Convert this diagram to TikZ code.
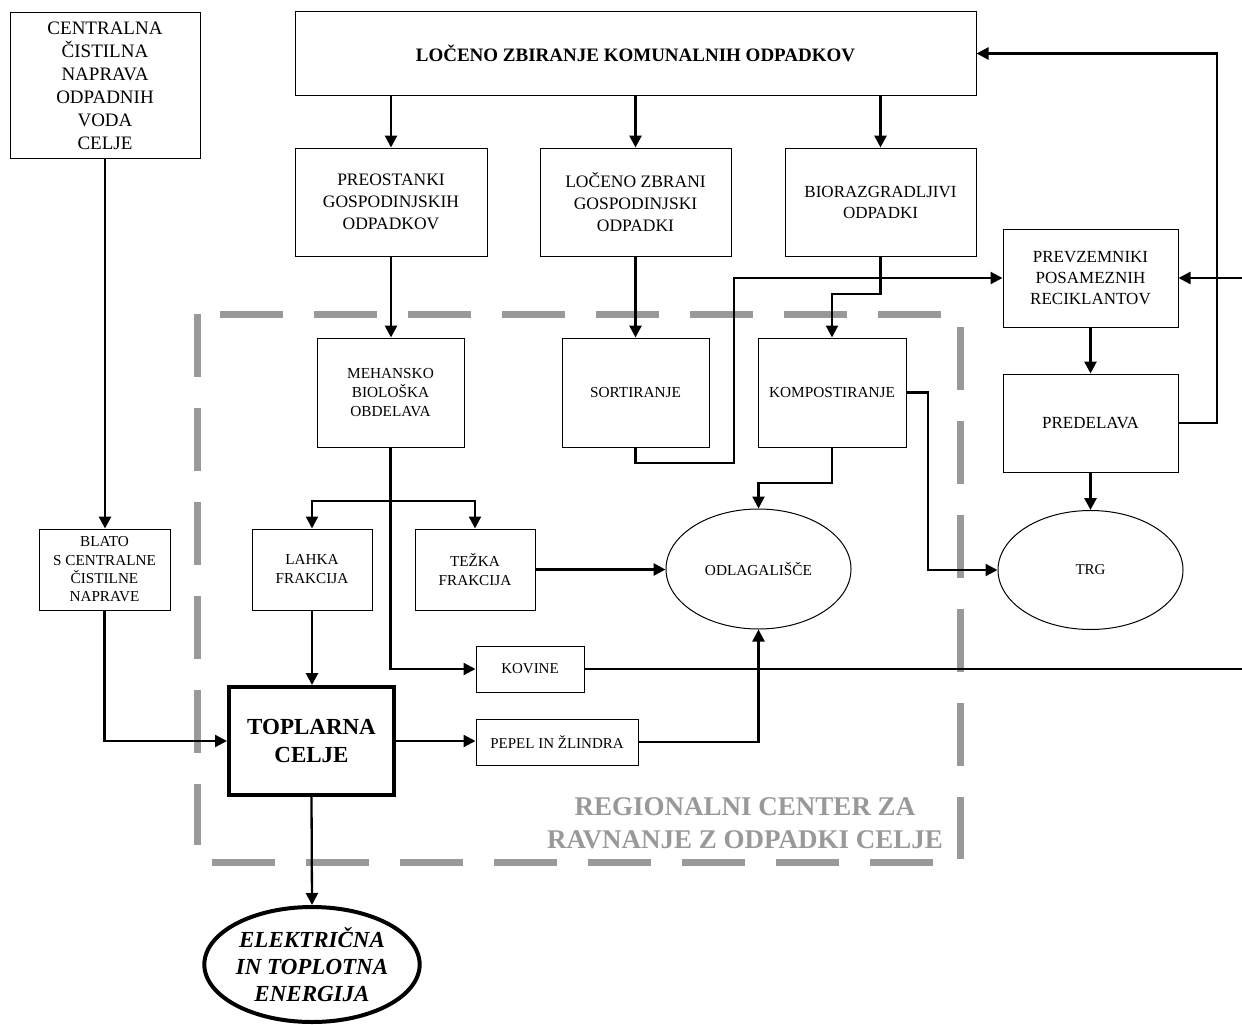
\documentclass[tikz,border=0pt]{standalone}
\usepackage{fontspec}
\setmainfont{Liberation Serif}
\usetikzlibrary{arrows.meta,shapes.geometric}
\newcommand\myfs[2]{\fontsize{#1}{#2}\selectfont}
\definecolor{rgray}{HTML}{999999}
\begin{document}
\begin{tikzpicture}[x=1pt,y=-1pt,
  bx/.style={draw, line width=1pt, inner sep=0pt, align=center},
  ell/.style={draw, ellipse, line width=1pt, inner sep=0pt, align=center},
  arr/.style={line width=2.8pt, -{Triangle[length=12pt,width=12pt]}},
  tarr/.style={line width=2.3pt, -{Triangle[length=12pt,width=12pt]}},
  ln/.style={line width=2.5pt},
  rg/.style={draw=rgray, line width=7pt, dash pattern=on 63pt off 31pt}]
\useasboundingbox[fill=white] (0,0) rectangle (1242,1025);

% region outline
\draw[rg] (220,314) -- (941,314);
\draw[rg] (197,314) -- (197,845);
\draw[rg] (212,862) -- (933,862);
\draw[rg] (960,327) -- (960,859);
\node[font=\bfseries\myfs{27}{33}, text=rgray, align=center] (rl) at (745,823) {REGIONALNI CENTER ZA\\RAVNANJE Z ODPADKI CELJE};

% nodes
\node[bx, minimum width=190pt, minimum height=145pt, font=\myfs{19}{23}] (cc) at (105,85.5) {CENTRALNA\\ČISTILNA\\NAPRAVA\\ODPADNIH\\VODA\\CELJE};
\node[bx, minimum width=681pt, minimum height=83pt, font=\bfseries\myfs{19}{23}] (top) at (635.5,53.5) {LOČENO ZBIRANJE KOMUNALNIH ODPADKOV};

\node[bx, minimum width=192pt, minimum height=108pt, font=\myfs{17.5}{22}] (pre) at (391,202) {PREOSTANKI\\GOSPODINJSKIH\\ODPADKOV};
\node[bx, minimum width=191pt, minimum height=108pt, font=\myfs{17.5}{22}] (loc) at (635.5,202) {LOČENO ZBRANI\\GOSPODINJSKI\\ODPADKI};
\node[bx, minimum width=191pt, minimum height=108pt, font=\myfs{17}{21}] (bio) at (880.5,202) {BIORAZGRADLJIVI\\ODPADKI};

\node[bx, minimum width=175pt, minimum height=98pt, font=\myfs{17}{21}] (prev) at (1090.5,278) {PREVZEMNIKI\\POSAMEZNIH\\RECIKLANTOV};
\node[bx, minimum width=175pt, minimum height=98pt, font=\myfs{17}{21}] (pred) at (1090.5,423) {PREDELAVA};
\node[ell, minimum width=185pt, minimum height=119pt, font=\myfs{15}{19}] (trg) at (1090.5,570) {TRG};

\node[bx, minimum width=147pt, minimum height=109pt, font=\myfs{15.3}{19}] (meh) at (390.5,392.5) {MEHANSKO\\BIOLOŠKA\\OBDELAVA};
\node[bx, minimum width=147pt, minimum height=109pt, font=\myfs{15.3}{19}] (sort) at (635.5,392.5) {SORTIRANJE};
\node[bx, minimum width=148pt, minimum height=109pt, font=\myfs{15.3}{19}] (komp) at (832,392.5) {KOMPOSTIRANJE};
\node[ell, minimum width=185pt, minimum height=120pt, font=\myfs{15.3}{19}] (odl) at (758.5,569) {ODLAGALIŠČE};

\node[bx, minimum width=120pt, minimum height=81pt, font=\myfs{15.2}{19}] (lahka) at (312,569.5) {LAHKA\\FRAKCIJA};
\node[bx, minimum width=120pt, minimum height=81pt, font=\myfs{15.2}{19}] (tezka) at (475,569.5) {TEŽKA\\FRAKCIJA};
\node[bx, minimum width=131pt, minimum height=81pt, font=\myfs{15.2}{18.3}] (blato) at (104.5,569.5) {BLATO\\S CENTRALNE\\ČISTILNE\\NAPRAVE};

\node[bx, line width=4pt, minimum width=165pt, minimum height=108pt, font=\bfseries\myfs{23}{28}] (topl) at (311.5,741) {TOPLARNA\\CELJE};
\node[bx, minimum width=108pt, minimum height=46pt, font=\myfs{15}{19}] (kov) at (530,669) {KOVINE};
\node[bx, minimum width=162pt, minimum height=46pt, font=\myfs{15}{19}] (pep) at (557,742) {PEPEL IN ŽLINDRA};
\node[ell, line width=4pt, minimum width=214pt, minimum height=115pt, font=\bfseries\itshape\myfs{23}{27}] (elek) at (312,964.5) {ELEKTRIČNA\\IN TOPLOTNA\\ENERGIJA};

% helper coordinates
\coordinate (bk) at (880.5,294);
\coordinate (s1) at (734,463);
\coordinate (fb) at (1217,53.5);
\coordinate (re1) at (1242,278);
\coordinate (re2) at (1242,669);
\coordinate (mb) at (390.5,501);
\coordinate (ko) at (832,483);
\coordinate (kt) at (928,392.5);

% connectors
\draw[arr] (pre.north |- top.south) -- (pre.north);
\draw[arr] (loc.north |- top.south) -- (loc.north);
\draw[arr] (bio.north |- top.south) -- (bio.north);
\draw[arr] (pre.south) -- (pre.south |- meh.north);
\draw[arr] (loc.south) -- (loc.south |- sort.north);
\draw[tarr] (bio.south) -- (bk) -| (komp.north);
\draw[tarr] (sort.south) |- (s1) |- (prev.west);
\draw[arr] (prev.south) -- (pred.north);
\draw[tarr] (pred.east) -| (fb) -- (top.east);
\draw[tarr] (re1) -- (prev.east);
\draw[arr] (pred.south) -- (pred.south |- trg.north);
\draw[ln] (meh.south) -- (mb);
\draw[tarr] (mb) -| (lahka.north);
\draw[tarr] (mb) -| (tezka.north);
\draw[tarr] (mb) |- (kov.west);
\draw[arr] (tezka.east) -- (tezka.east -| odl.west);
\draw[tarr] (komp.south) -- (ko) -| (odl.north);
\draw[tarr] (komp.east) -- (kt) |- (trg.west);
\draw[arr] (cc.south) -- (cc.south |- blato.north);
\draw[tarr] (blato.south) |- (topl.west);
\draw[arr] (lahka.south) -- (lahka.south |- topl.north);
\draw[tarr] (topl.east) -- (topl.east -| pep.west);
\draw[tarr] (topl.south) -- (elek.north);
\draw[ln] (kov.east) -- (re2);
\draw[tarr] (pep.east) -| (odl.south);
\end{tikzpicture}
\end{document}
